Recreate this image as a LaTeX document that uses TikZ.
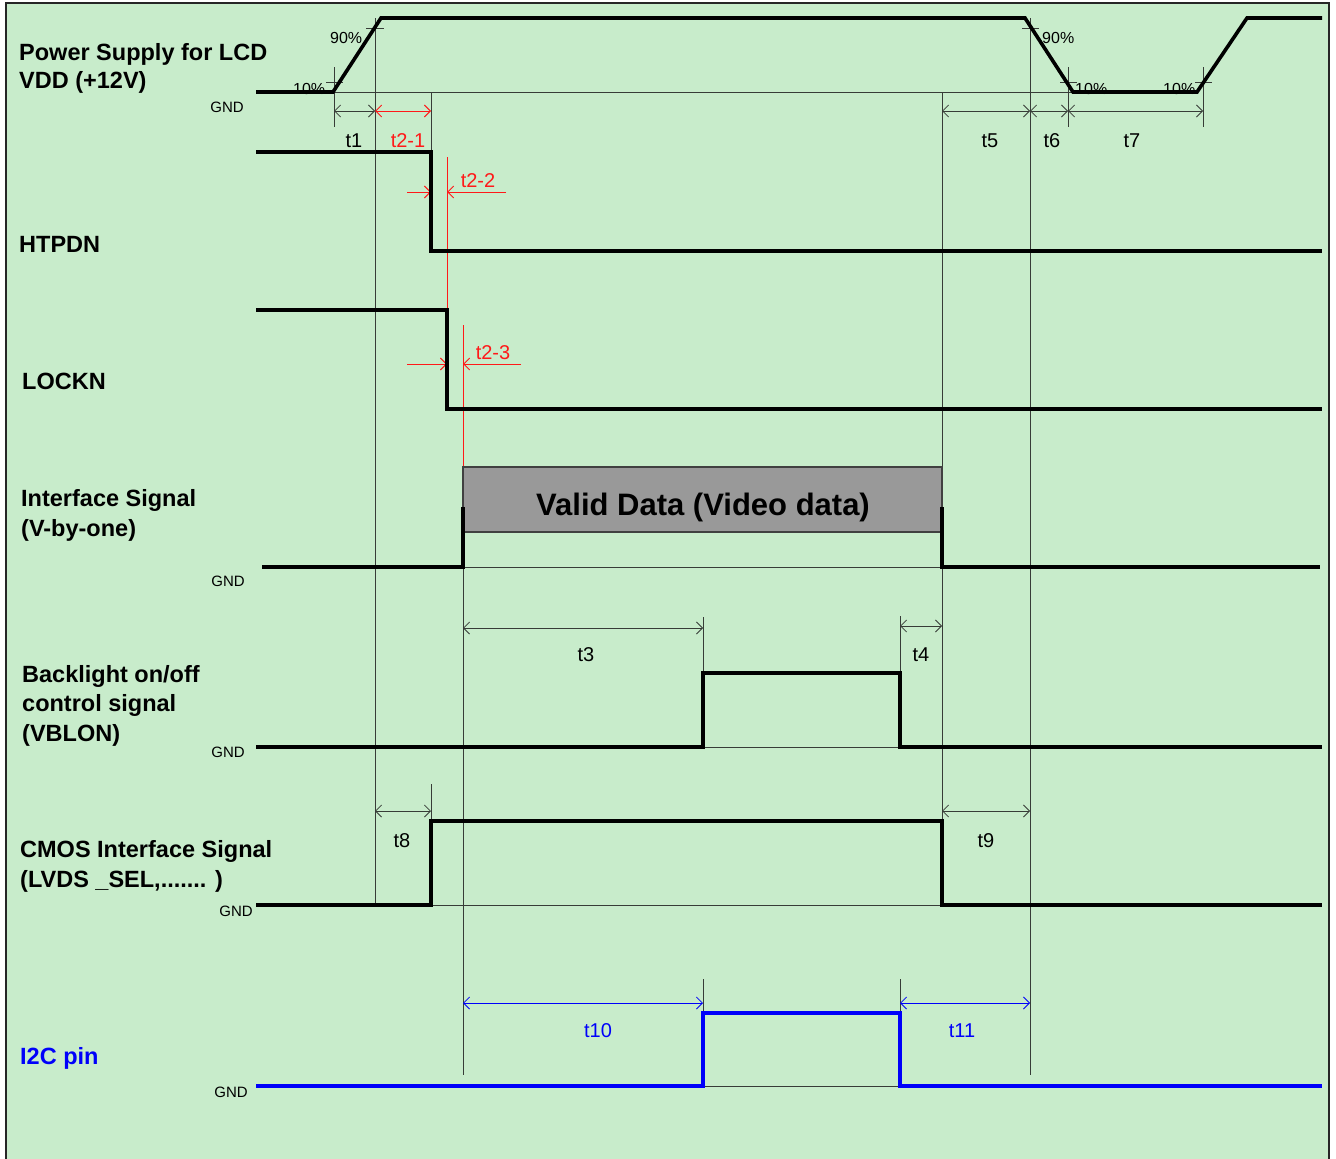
\documentclass[tikz,border=0pt]{standalone}
\usepackage{fontspec}
\setmainfont{Liberation Sans}
\usetikzlibrary{arrows.meta}
\definecolor{bggreen}{RGB}{200,236,203}
\definecolor{thinline}{RGB}{55,60,55}
\definecolor{redline}{RGB}{255,25,25}
\definecolor{blueline}{RGB}{0,0,250}
\definecolor{boxgray}{RGB}{153,153,153}
\begin{document}
\begin{tikzpicture}[x=1pt,y=-1pt,
  lbl/.style={anchor=base west,inner sep=0pt,font=\fontsize{23.5}{26}\selectfont\bfseries},
  gndlbl/.style={anchor=base east,inner sep=0pt,font=\fontsize{15}{17}\selectfont},
  tlbl/.style={anchor=base,inner sep=0pt,font=\fontsize{20}{22}\selectfont},
  pct/.style={anchor=base west,inner sep=0pt,font=\fontsize{16}{18}\selectfont},
  guide/.style={draw=thinline,line width=1pt},
  sig/.style={draw=black,line width=3.6pt,line join=miter},
  bsig/.style={draw=blueline,line width=3.6pt,line join=miter},
  dimline/.style={draw=thinline,line width=0.8pt,{Straight Barb[length=6pt,width=12pt]}-{Straight Barb[length=6pt,width=12pt]}},
  rdim/.style={draw=redline,line width=0.9pt,{Straight Barb[length=6pt,width=12pt]}-{Straight Barb[length=6pt,width=12pt]}},
  rhalf/.style={draw=redline,line width=0.9pt,-{Straight Barb[length=6pt,width=12pt]}},
  bdim/.style={draw=blueline,line width=0.8pt,{Straight Barb[length=6pt,width=12pt]}-{Straight Barb[length=6pt,width=12pt]}},
  redv/.style={draw=redline,line width=1pt}
]
\useasboundingbox (0,0) rectangle (1336,1159);
\fill[white] (0,0) rectangle (1336,1159);
\fill[bggreen] (6,3) rectangle (1329,1162);
\draw[line width=2pt,draw=black!85] (6,1162) -- (6,3) -- (1329,3) -- (1329,1162);

% ---------- labels ----------
\node[lbl] (pw1) at (19,60) {Power Supply for LCD};
\node[lbl] (pw2) at (19,88) {VDD (+12V)};
\node[lbl] (htp) at (19,252) {HTPDN};
\node[lbl] (lck) at (22,389) {LOCKN};
\node[lbl] (if1) at (21,506) {Interface Signal};
\node[lbl] (if2) at (21,536) {(V-by-one)};
\node[lbl] (bl1) at (22,682) {Backlight on/off};
\node[lbl] (bl2) at (22,711) {control signal};
\node[lbl] (bl3) at (22,741) {(VBLON)};
\node[lbl] (cm1) at (20,857) {CMOS Interface Signal};
\node[lbl] (cm2) at (20,887) {(LVDS \_SEL,....... )};
\node[lbl,text=blueline] (i2c) at (20,1064) {I2C pin};

\node[gndlbl] (g1) at (244,112) {GND};
\node[gndlbl] (g2) at (245,586) {GND};
\node[gndlbl] (g3) at (245,757) {GND};
\node[gndlbl] (g4) at (253,916) {GND};
\node[gndlbl] (g5) at (248,1097) {GND};

\node[pct] (p90a) at (330,43) {90\%};
\node[pct] (p10a) at (293,94) {10\%};
\node[pct] (p90b) at (1042,43) {90\%};
\node[pct] (p10b) at (1075,94) {10\%};
\node[pct] (p10c) at (1163,94) {10\%};

\node[tlbl] (t1) at (354,147) {t1};
\node[tlbl,text=redline] (t21) at (408,147) {t2-1};
\node[tlbl,text=redline] (t22) at (478,187) {t2-2};
\node[tlbl,text=redline] (t23) at (493,359) {t2-3};
\node[tlbl] (t5) at (990,147) {t5};
\node[tlbl] (t6) at (1052,147) {t6};
\node[tlbl] (t7) at (1132,147) {t7};
\node[tlbl] (t3) at (586,661) {t3};
\node[tlbl] (t4) at (921,661) {t4};
\node[tlbl] (t8) at (402,847) {t8};
\node[tlbl] (t9) at (986,847) {t9};
\node[tlbl,text=blueline] (t10) at (598,1037) {t10};
\node[tlbl,text=blueline] (t11) at (962,1037) {t11};

% ---------- thin reference / guide lines ----------
\draw[guide] (333,92) -- (1073,92);
\draw[guide] (463,567) -- (942,567);
\draw[guide] (703,747) -- (900,747);
\draw[guide] (431,905) -- (942,905);
\draw[guide] (703,1086) -- (900,1086);

\draw[guide] (375,18) -- (375,905);
\draw[guide] (431,92) -- (431,152);
\draw[guide] (942,92) -- (942,905);
\draw[guide] (1030,18) -- (1030,1075);
\draw[guide] (463,532) -- (463,1075);
% 10% / 90% markers
\draw[guide] (334,67) -- (334,127);
\draw[guide] (326,82) -- (343,82);
\draw[guide] (366,28) -- (384,28);
\draw[guide] (1022,28) -- (1039,28);
\draw[guide] (1068,67) -- (1068,127);
\draw[guide] (1060,82) -- (1077,82);
\draw[guide] (1203,67) -- (1203,127);
\draw[guide] (1195,82) -- (1212,82);
% ticks
\draw[guide] (703,617) -- (703,673);
\draw[guide] (900,616) -- (900,673);
\draw[guide] (431,784) -- (431,821);
\draw[guide] (703,979) -- (703,1050);
\draw[guide] (900,979) -- (900,1052);

% ---------- dimension arrows ----------
\draw[dimline] (334,111) -- (375,111);
\draw[rdim] (375,111) -- (431,111);
\draw[dimline] (942,111) -- (1030,111);
\draw[dimline] (1030,111) -- (1068,111);
\draw[dimline] (1068,111) -- (1203,111);
\draw[dimline] (463,628) -- (703,628);
\draw[dimline] (900,626) -- (942,626);
\draw[dimline] (375,811) -- (431,811);
\draw[dimline] (942,811) -- (1030,811);
\draw[bdim] (463,1003) -- (703,1003);
\draw[bdim] (900,1003) -- (1030,1003);

% red t2-2 / t2-3
\draw[redv] (447,157) -- (447,310);
\draw[redv] (463,325) -- (463,467);
\draw[rhalf] (407,192) -- (431,192);
\draw[rhalf] (506,192) -- (447,192);
\draw[rhalf] (407,364) -- (447,364);
\draw[rhalf] (521,364) -- (463,364);

% ---------- valid data box ----------
\draw[fill=boxgray,draw=black!75,line width=1.3pt] (463,467) rectangle (942,532);
\node[anchor=base,inner sep=0pt,font=\fontsize{31}{34}\selectfont\bfseries] (vd) at (703,515) {Valid Data (Video data)};

% ---------- signal waveforms ----------
\draw[sig] (256,92) -- (333,92) -- (381,18) -- (1025,18) -- (1073,92) -- (1197,92) -- (1247,18) -- (1322,18);
\draw[sig] (256,152) -- (431,152) -- (431,251) -- (1322,251);
\draw[sig] (256,310) -- (447,310) -- (447,409) -- (1322,409);
\draw[sig] (262,567) -- (463,567) -- (463,507);
\draw[sig] (942,507) -- (942,567) -- (1320,567);
\draw[sig] (256,747) -- (703,747) -- (703,673) -- (900,673) -- (900,747) -- (1322,747);
\draw[sig] (256,905) -- (431,905) -- (431,821) -- (942,821) -- (942,905) -- (1322,905);
\draw[bsig] (256,1086) -- (703,1086) -- (703,1013) -- (900,1013) -- (900,1086) -- (1322,1086);
\end{tikzpicture}
\end{document}
